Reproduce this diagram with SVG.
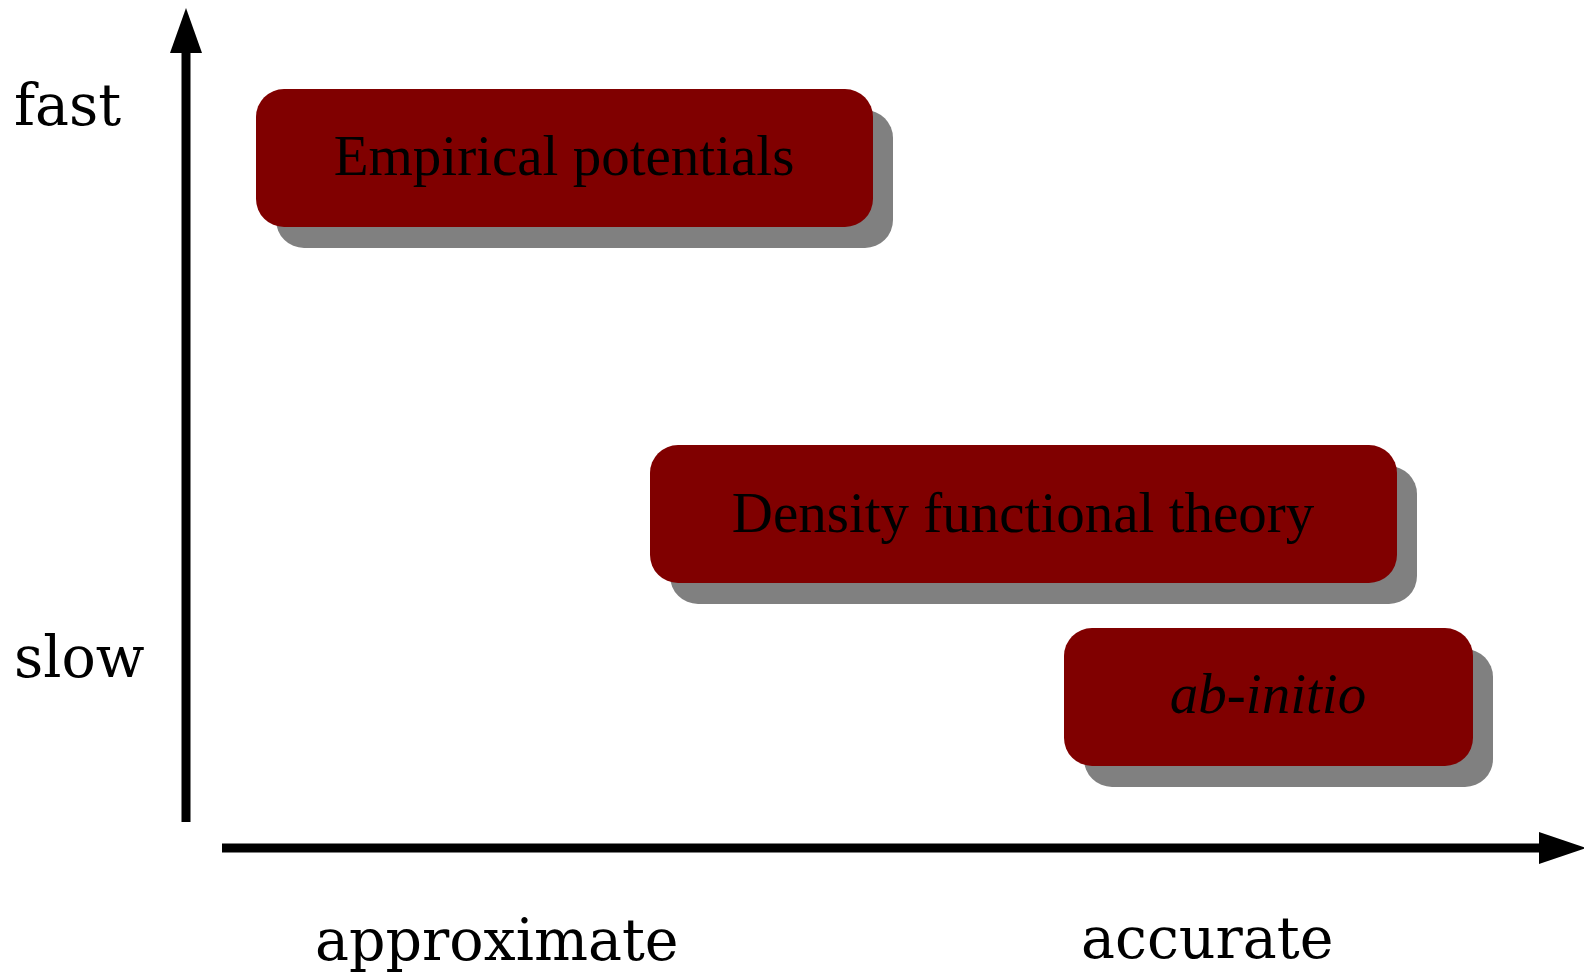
<svg xmlns="http://www.w3.org/2000/svg" width="1584" height="973" viewBox="0 0 1584 973">
<style>
.box{fill:#800000}
.shadow{fill:#808080}
.lbl{font-family:"Liberation Serif","Times New Roman",serif;font-size:57px;fill:#000;text-anchor:middle}
.axl{font-family:"DejaVu Serif",serif;font-size:57px;fill:#000}
.axis{stroke:#000;stroke-width:9;fill:none}
</style>
<rect width="1584" height="973" fill="#fff"/>
<g id="connectors">
<line class="axis" x1="186" y1="50" x2="186" y2="822"/>
<polygon points="186,8 170,53 202,53" fill="#000"/>
<line class="axis" x1="222" y1="848" x2="1542" y2="848"/>
<polygon points="1586,848 1539,832 1539,864" fill="#000"/>
</g>
<g id="label-fast"><text class="axl" x="14" y="125">fast</text></g>
<g id="label-slow"><text class="axl" x="14" y="677">slow</text></g>
<g id="label-approximate"><text class="axl" x="315" y="960">approximate</text></g>
<g id="label-accurate"><text class="axl" x="1081" y="958">accurate</text></g>
<g id="node-empirical">
<rect class="shadow" x="276" y="110" width="617" height="138" rx="28"/>
<rect class="box" x="256" y="89" width="617" height="138" rx="28"/>
<text class="lbl" x="564" y="175">Empirical potentials</text>
</g>
<g id="node-dft">
<rect class="shadow" x="670" y="466" width="747" height="138" rx="28"/>
<rect class="box" x="650" y="445" width="747" height="138" rx="28"/>
<text class="lbl" x="1023" y="532">Density functional theory</text>
</g>
<g id="node-abinitio">
<rect class="shadow" x="1084" y="649" width="409" height="138" rx="28"/>
<rect class="box" x="1064" y="628" width="409" height="138" rx="28"/>
<text class="lbl" x="1268" y="713" font-style="italic">ab-initio</text>
</g>
</svg>
